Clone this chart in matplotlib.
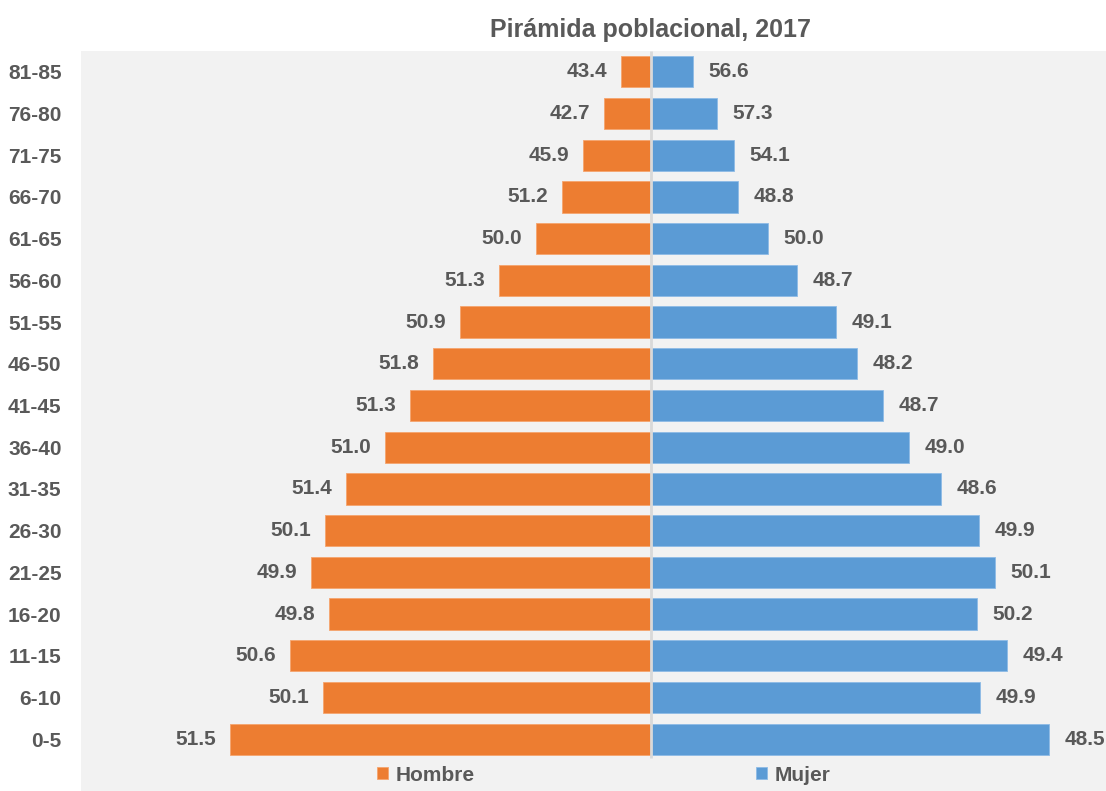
import matplotlib.pyplot as plt

# age groups, from youngest to oldest
grupos = ["0-5", "6-10", "11-15", "16-20", "21-25", "26-30", "31-35", "36-40",
          "41-45", "46-50", "51-55", "56-60", "61-65", "66-70", "71-75", "76-80", "81-85"]
# population per group (relative units)
hombres = [421, 328, 361, 322, 340, 326, 305, 266, 241, 218, 191, 152, 115, 89, 68, 47, 30]
mujeres = [398, 329, 356, 326, 344, 328, 290, 258, 232, 206, 185, 146, 117, 87, 83, 66, 42]
# percentage labels shown next to bars
pct_hombres = [51.5, 50.1, 50.6, 49.8, 49.9, 50.1, 51.4, 51.0, 51.3, 51.8, 50.9, 51.3, 50.0, 51.2, 45.9, 42.7, 43.4]
pct_mujeres = [48.5, 49.9, 49.4, 50.2, 50.1, 49.9, 48.6, 49.0, 48.7, 48.2, 49.1, 48.7, 50.0, 48.8, 54.1, 57.3, 56.6]

naranja = "#ED7D31"
azul = "#5B9BD5"
gris_txt = "#595959"

plt.rcParams['font.family'] = ['Liberation Sans Narrow', 'Liberation Sans', 'DejaVu Sans']
plt.rcParams['font.weight'] = 'bold'

fig = plt.figure(figsize=(11.06, 7.91), dpi=100)
W, H = 1106, 791
ax = fig.add_axes([81 / W, 0, 1 - 81 / W, (791 - 51) / H])
ax.set_facecolor("#F2F2F2")

y = list(range(len(grupos)))
ax.barh(y, [-v for v in hombres], height=0.75, color=naranja, edgecolor="#F5A46E", linewidth=0.6, label="Hombre")
ax.barh(y, mujeres, height=0.75, color=azul, edgecolor="#8DBBE6", linewidth=0.6, label="Mujer")
# center axis line, only over the bar area
ax.vlines(0, -0.45, 16.5, color="#D9D9D9", lw=2, zorder=3)

for i in y:
    ax.annotate(f"{pct_hombres[i]:.1f}", (-hombres[i], i), xytext=(-10, 0), textcoords="offset points",
                ha="right", va="center", fontsize=15, color=gris_txt, fontweight="bold")
    ax.annotate(f"{pct_mujeres[i]:.1f}", (mujeres[i], i), xytext=(11, 0), textcoords="offset points",
                ha="left", va="center", fontsize=15, color=gris_txt, fontweight="bold")

ax.set_xlim(-570, 455)
ax.set_ylim(-1.24, 16.5)
ax.set_yticks(y)
ax.set_yticklabels(grupos, fontsize=15, color=gris_txt, fontweight="bold")
ax.tick_params(axis="y", length=0, pad=14)
ax.set_xticks([])
for s in ax.spines.values():
    s.set_visible(False)

leg = ax.legend(loc="center", bbox_to_anchor=(0.51, 0.0216), ncol=2, frameon=False,
                fontsize=15, handlelength=0.55, handleheight=0.55, handletextpad=0.35,
                columnspacing=13.5, borderpad=0)
for t in leg.get_texts():
    t.set_color(gris_txt)

fig.text(651 / W, 1 - 30 / H, "Pirámida poblacional, 2017", ha="center", va="center",
         fontsize=18, color=gris_txt, fontweight="bold")

fig.savefig("out.png", dpi=100)
